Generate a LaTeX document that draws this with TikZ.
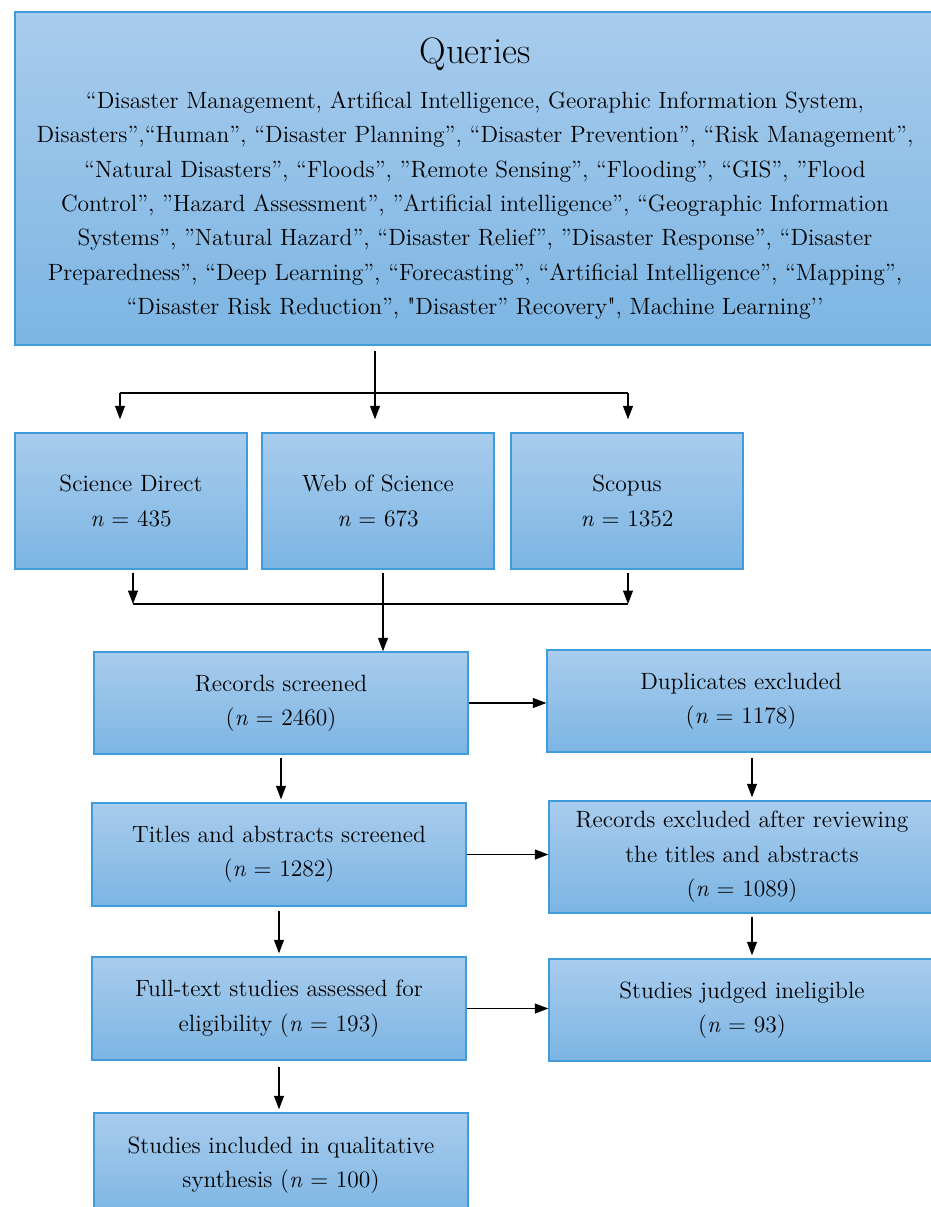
\documentclass[tikz,border=0pt]{standalone}
\usepackage{xcolor}
\usepackage{tikz}
\usetikzlibrary{arrows.meta}

\definecolor{boxtop}{RGB}{168,204,237}
\definecolor{boxbottom}{RGB}{124,181,227}
\definecolor{boxedge}{RGB}{62,156,220}

\begin{document}
\begin{tikzpicture}[x=0.02cm,y=-0.02cm]
\useasboundingbox (0,0) rectangle (930,1207);
\begin{scope}[every node/.style={rectangle,draw=boxedge,line width=0.8pt,
              top color=boxtop,bottom color=boxbottom,align=center,inner sep=0pt,
              font=\fontsize{13.4}{19.6}\selectfont}]
    \node[minimum width=18.4cm,minimum height=6.66cm] (Q) at (475,178.5)
        {{\fontsize{21}{24}\selectfont Queries}\\[6pt]
         “Disaster Management, Artifical Intelligence, Georaphic Information System,\\
         Disasters”,“Human”, “Disaster Planning”, “Disaster Prevention”, “Risk Management”,\\
         “Natural Disasters”, “Floods”, ”Remote Sensing”, “Flooding”, “GIS”, ”Flood\\
         Control”, ”Hazard Assessment”, ”Artificial intelligence”, “Geographic Information\\
         Systems”, ”Natural Hazard”, “Disaster Relief”, ”Disaster Response”, “Disaster\\
         Preparedness”, “Deep Learning”, “Forecasting”, “Artificial Intelligence”, “Mapping”,\\
         “Disaster Risk Reduction”, \textquotedbl Disaster” Recovery\textquotedbl, Machine Learning’’};
    \node[minimum width=4.64cm,minimum height=2.72cm] (SD) at (131,501) {Science Direct\\ \textit{n} = 435};
    \node[minimum width=4.64cm,minimum height=2.72cm] (WOS) at (378,501) {Web of Science\\ \textit{n} = 673};
    \node[minimum width=4.64cm,minimum height=2.72cm] (SC) at (627,501) {Scopus\\ \textit{n} = 1352};
    \node[minimum width=7.48cm,minimum height=2.04cm] (RS) at (281,703) {Records screened\\ (\textit{n} = 2460)};
    \node[minimum width=7.76cm,minimum height=2.04cm] (DUP) at (741,701) {Duplicates excluded\\ (\textit{n} = 1178)};
    \node[minimum width=7.48cm,minimum height=2.06cm] (TA) at (279,854.5) {Titles and abstracts screened\\ (\textit{n} = 1282)};
    \node[minimum width=7.72cm,minimum height=2.24cm] (REX) at (742,857) {Records excluded after reviewing\\ the titles and abstracts\\ (\textit{n} = 1089)};
    \node[minimum width=7.48cm,minimum height=2.06cm] (FT) at (279,1008.5) {Full-text studies assessed for\\ eligibility (\textit{n} = 193)};
    \node[minimum width=7.72cm,minimum height=2.04cm] (INE) at (742,1010) {Studies judged ineligible\\ (\textit{n} = 93)};
    \node[minimum width=7.48cm,minimum height=2.08cm] (INC) at (281,1165) {Studies included in qualitative\\ synthesis (\textit{n} = 100)};
\end{scope}
\begin{scope}[>={Triangle[length=2.7mm,width=2mm]},
              every edge/.style={draw=black,line width=0.6pt}]
    \coordinate (F) at (375,393);
    \coordinate (F-l) at (120,393);
    \coordinate (F-r) at (628,393);
    \coordinate (M) at (383,604);
    \coordinate (M-l) at (133,604);
    \coordinate (M-r) at (628,604);
    \coordinate (R) at (752,0);
    % queries to the three databases
    \path [-] (Q.south -| F) edge[shorten <=0.1cm] (F);
    \path [-] (F-l) edge (F-r);
    \path [->] (F-l) edge[shorten >=0.26cm] (F-l |- SD.north);
    \path [->] (F) edge[shorten >=0.26cm] (F |- WOS.north);
    \path [->] (F-r) edge[shorten >=0.26cm] (F-r |- SC.north);
    % databases merged
    \path [->] (SD.south -| M-l) edge[shorten <=0.06cm] (M-l);
    \path [->] (SC.south -| M-r) edge[shorten <=0.06cm] (M-r);
    \path [-] (M-l) edge (M-r);
    \path [->] (WOS.south -| M) edge[shorten <=0.06cm] (M |- RS.north);
    % screening steps
    \path [->] (RS.east) edge (RS.east -| DUP.west);
    \path [->] (TA.east) edge (TA.east -| REX.west);
    \path [->] (FT.east) edge (FT.east -| INE.west);
    \path [->] (RS.south) edge[shorten <=0.06cm,shorten >=0.06cm] (RS.south |- TA.north);
    \path [->] (TA.south) edge[shorten <=0.08cm,shorten >=0.06cm] (TA.south |- FT.north);
    \path [->] (FT.south) edge[shorten <=0.12cm,shorten >=0.06cm] (FT.south |- INC.north);
    \path [->] (R |- DUP.south) edge[shorten <=0.1cm,shorten >=0.06cm] (R |- REX.north);
    \path [->] (R |- REX.south) edge[shorten <=0.06cm,shorten >=0.06cm] (R |- INE.north);
\end{scope}
\end{tikzpicture}
\end{document}
